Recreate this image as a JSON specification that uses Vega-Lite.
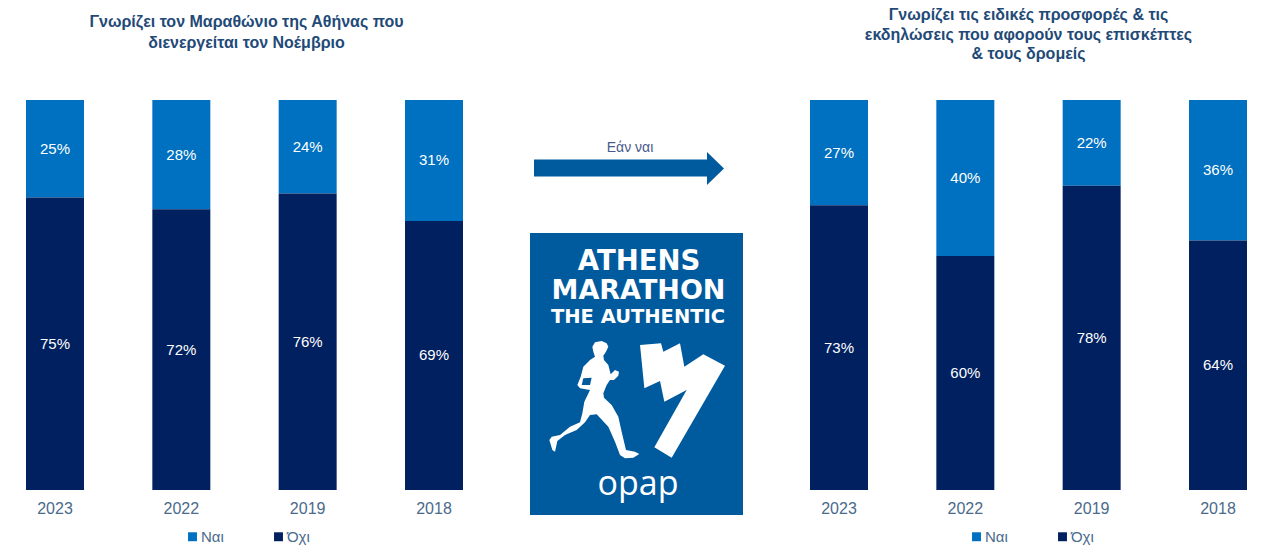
{
"$schema":"https://vega.github.io/schema/vega-lite/v6.json",
"background":"white",
"padding":{"left":26,"top":7,"right":0,"bottom":0},
"bounds":"flush",
"spacing":66,
"config":{"view":{"stroke":null},"font":"Liberation Sans"},
"resolve":{"scale":{"color":"independent"},"legend":{"color":"independent"}},
"datasets":{
"left":[
{"year":"2023","answer":"Ναι","value":0.25},{"year":"2023","answer":"Όχι","value":0.75},
{"year":"2022","answer":"Ναι","value":0.28},{"year":"2022","answer":"Όχι","value":0.72},
{"year":"2019","answer":"Ναι","value":0.24},{"year":"2019","answer":"Όχι","value":0.76},
{"year":"2018","answer":"Ναι","value":0.31},{"year":"2018","answer":"Όχι","value":0.69}],
"right":[
{"year":"2023","answer":"Ναι","value":0.27},{"year":"2023","answer":"Όχι","value":0.73},
{"year":"2022","answer":"Ναι","value":0.40},{"year":"2022","answer":"Όχι","value":0.60},
{"year":"2019","answer":"Ναι","value":0.22},{"year":"2019","answer":"Όχι","value":0.78},
{"year":"2018","answer":"Ναι","value":0.36},{"year":"2018","answer":"Όχι","value":0.64}]
},
"hconcat":[
{"width":437,"height":390,"data":{"name":"left"},
"title":{"text":["Γνωρίζει τον Μαραθώνιο της Αθήνας που","διενεργείται τον Νοέμβριο"],"anchor":"middle","fontSize":16,"fontWeight":"bold","color":"#1f4a78","font":"Liberation Sans","lineHeight":21,"offset":49,"dx":2},
"encoding":{
"x":{"field":"year","type":"nominal","sort":["2023","2022","2019","2018"],"scale":{"paddingInner":0.541,"paddingOuter":0},"title":null,"axis":{"domain":false,"ticks":false,"labelAngle":0,"labelFontSize":16,"labelColor":"#4a6a8c","labelPadding":10}},
"y":{"field":"value","type":"quantitative","stack":"zero","scale":{"domain":[0,1],"nice":false},"axis":null},
"order":{"field":"answer","sort":"ascending"}},
"layer":[
{"mark":{"type":"bar"},"encoding":{"color":{"field":"answer","type":"nominal","scale":{"domain":["Ναι","Όχι"],"range":["#0070c0","#002060"]},"legend":{"orient":"none","direction":"horizontal","legendX":159,"legendY":429,"title":null,"symbolType":"square","symbolSize":80,"symbolStrokeWidth":0,"labelFontSize":15,"labelColor":"#4a6a8c","labelOffset":1,"columnPadding":47}}}},
{"mark":{"type":"text","color":"white","fontSize":15,"baseline":"middle"},"encoding":{"y":{"field":"value","type":"quantitative","stack":"zero","bandPosition":0.5},"text":{"field":"value","type":"quantitative","format":".0%"}}}
]},
{"width":215,"height":415,
"layer":[
{"data":{"values":[{"part":"logo"}]},"mark":{"type":"rect","color":"#005a9e"},"encoding":{
"x":{"datum":530,"type":"quantitative","scale":{"domain":[529,744],"nice":false,"zero":false},"axis":null},"x2":{"datum":743},
"y":{"datum":233,"type":"quantitative","scale":{"domain":[515,100],"nice":false,"zero":false},"axis":null},"y2":{"datum":515}}},
{"data":{"values":[{"part":"arrow shaft"}]},"mark":{"type":"rule","color":"#005a9e","strokeWidth":17},"encoding":{
"x":{"datum":534,"type":"quantitative","axis":null},"x2":{"datum":708},
"y":{"datum":168,"type":"quantitative","axis":null}}},
{"data":{"values":[{"part":"arrow head"}]},"mark":{"type":"point","shape":"M0,-16.5 L17,0 L0,16.5 Z","filled":true,"color":"#005a9e","size":4,"opacity":1},"encoding":{
"x":{"datum":707,"type":"quantitative","axis":null},
"y":{"datum":168.5,"type":"quantitative","axis":null}}},
{"data":{"values":[{"label":"Εάν ναι"}]},"mark":{"type":"text","fontSize":14,"color":"#4a5a8c","baseline":"middle","font":"Liberation Sans"},"encoding":{
"x":{"datum":630,"type":"quantitative","axis":null},
"y":{"datum":148,"type":"quantitative","axis":null},"text":{"field":"label"}}},
{"data":{"values":[{"label":"ATHENS"}]},"mark":{"type":"text","fontSize":27.5,"fontWeight":"bold","color":"white","baseline":"alphabetic","font":"DejaVu Sans"},"encoding":{
"x":{"datum":639,"type":"quantitative","axis":null},
"y":{"datum":270,"type":"quantitative","axis":null},"text":{"field":"label"}}},
{"data":{"values":[{"label":"MARATHON"}]},"mark":{"type":"text","fontSize":27,"fontWeight":"bold","color":"white","baseline":"alphabetic","font":"DejaVu Sans"},"encoding":{
"x":{"datum":638.5,"type":"quantitative","axis":null},
"y":{"datum":299,"type":"quantitative","axis":null},"text":{"field":"label"}}},
{"data":{"values":[{"label":"THE AUTHENTIC"}]},"mark":{"type":"text","fontSize":19.5,"fontWeight":"bold","color":"white","baseline":"alphabetic","font":"DejaVu Sans"},"encoding":{
"x":{"datum":638,"type":"quantitative","axis":null},
"y":{"datum":323,"type":"quantitative","axis":null},"text":{"field":"label"}}},
{"data":{"values":[{"label":"opap"}]},"mark":{"type":"text","fontSize":34,"color":"white","baseline":"alphabetic","font":"Open Sans"},"encoding":{
"x":{"datum":638,"type":"quantitative","axis":null},
"y":{"datum":495,"type":"quantitative","axis":null},"text":{"field":"label"}}},
{"data":{"values":[{"part":"runner"}]},"mark":{"type":"point","filled":true,"color":"white","opacity":1,"size":0.444,"shape":"M7,-160 L15,-173 L35,-177 L50,-170 L55,-160 L48,-145 L40,-133 L42,-120 L55,-105 L62,-77 L75,-90 L87,-85 L85,-73 L72,-60 L60,-60 L50,-45 L40,-20 L42,-7 L65,15 L85,50 L95,95 L108,150 L135,155 L148,162 L130,173 L105,175 L90,165 L75,125 L55,80 L20,43 L0,45 L-15,67 L-40,90 L-75,105 L-98,123 L-105,155 L-113,150 L-122,120 L-115,110 L-90,105 L-60,80 L-30,67 L-23,40 L-17,5 L0,-30 L-30,-35 L-38,-45 L-28,-70 L-20,-100 L0,-120 L15,-130 L10,-145 Z"},"encoding":{
"x":{"datum":590,"type":"quantitative","axis":null},
"y":{"datum":400,"type":"quantitative","axis":null}}},
{"data":{"values":[{"part":"runner arm gap"}]},"mark":{"type":"point","filled":true,"color":"#005a9e","opacity":1,"size":0.444,"shape":"M-20,-65 L5,-67 L0,-45 L-25,-45 Z"},"encoding":{
"x":{"datum":590,"type":"quantitative","axis":null},
"y":{"datum":400,"type":"quantitative","axis":null}}},
{"data":{"values":[{"part":"bolt"}]},"mark":{"type":"point","filled":true,"color":"white","opacity":1,"size":0.444,"shape":"M-135,-165 L-72,-170 L-65,-145 L-15,-170 L-2,-100 L55,-137 L120,-103 L-40,173 L-92,142 L5,-30 L-62,5 L-75,-57 L-122,-35 Z"},"encoding":{
"x":{"datum":685,"type":"quantitative","axis":null},
"y":{"datum":400,"type":"quantitative","axis":null}}}
]},
{"width":437,"height":390,"data":{"name":"right"},
"title":{"text":["Γνωρίζει τις ειδικές προσφορές & τις","εκδηλώσεις που αφορούν τους επισκέπτες","& τους δρομείς"],"anchor":"middle","fontSize":16,"fontWeight":"bold","color":"#1f4a78","font":"Liberation Sans","lineHeight":19.5,"offset":38},
"encoding":{
"x":{"field":"year","type":"nominal","sort":["2023","2022","2019","2018"],"scale":{"paddingInner":0.541,"paddingOuter":0},"title":null,"axis":{"domain":false,"ticks":false,"labelAngle":0,"labelFontSize":16,"labelColor":"#4a6a8c","labelPadding":10}},
"y":{"field":"value","type":"quantitative","stack":"zero","scale":{"domain":[0,1],"nice":false},"axis":null},
"order":{"field":"answer","sort":"ascending"}},
"layer":[
{"mark":{"type":"bar"},"encoding":{"color":{"field":"answer","type":"nominal","scale":{"domain":["Ναι","Όχι"],"range":["#0070c0","#002060"]},"legend":{"orient":"none","direction":"horizontal","legendX":159,"legendY":429,"title":null,"symbolType":"square","symbolSize":80,"symbolStrokeWidth":0,"labelFontSize":15,"labelColor":"#4a6a8c","labelOffset":1,"columnPadding":47}}}},
{"mark":{"type":"text","color":"white","fontSize":15,"baseline":"middle"},"encoding":{"y":{"field":"value","type":"quantitative","stack":"zero","bandPosition":0.5},"text":{"field":"value","type":"quantitative","format":".0%"}}}
]}
]
}
